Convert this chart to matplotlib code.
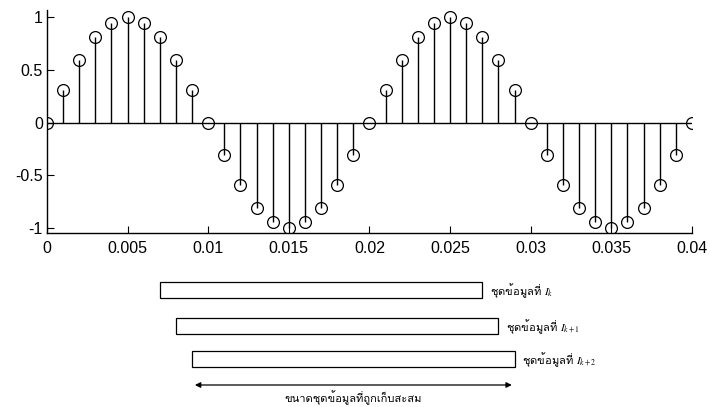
import numpy as np
import matplotlib
matplotlib.use('Agg')
from matplotlib import pyplot as plt
from matplotlib import font_manager
from matplotlib.ft2font import FT2Font

# sample times (s) and values
t = [0.000, 0.001, 0.002, 0.003, 0.004, 0.005, 0.006, 0.007, 0.008, 0.009,
     0.010, 0.011, 0.012, 0.013, 0.014, 0.015, 0.016, 0.017, 0.018, 0.019,
     0.020, 0.021, 0.022, 0.023, 0.024, 0.025, 0.026, 0.027, 0.028, 0.029,
     0.030, 0.031, 0.032, 0.033, 0.034, 0.035, 0.036, 0.037, 0.038, 0.039,
     0.040]
y = [0, 0.31, 0.59, 0.81, 0.95, 1.0, 0.95, 0.81, 0.59, 0.31,
     0, -0.31, -0.59, -0.81, -0.95, -1.0, -0.95, -0.81, -0.59, -0.31,
     0, 0.31, 0.59, 0.81, 0.95, 1.0, 0.95, 0.81, 0.59, 0.31,
     0, -0.31, -0.59, -0.81, -0.95, -1.0, -0.95, -0.81, -0.59, -0.31,
     0]

xticks = [0, 0.005, 0.01, 0.015, 0.02, 0.025, 0.03, 0.035, 0.04]
xticklabels = ['0', '0.005', '0.01', '0.015', '0.02', '0.025', '0.03', '0.035', '0.04']
yticks = [-1, -0.5, 0, 0.5, 1]
yticklabels = ['-1', '-0.5', '0', '0.5', '1']

# data windows (start, end in seconds) and their labels
win_start = [0.007, 0.008, 0.009]
win_end = [0.027, 0.028, 0.029]
win_labels = ['ชุดข้อมูลที่ $I_k$', 'ชุดข้อมูลที่ $I_{k+1}$', 'ชุดข้อมูลที่ $I_{k+2}$']
span_label = 'ขนาดชุดข้อมูลที่ถูกเก็บสะสม'


def thai_font():
    for f in font_manager.fontManager.ttflist:
        try:
            if 0x0E0A in FT2Font(f.fname).get_charmap():
                return f.name
        except Exception:
            pass
    return 'DejaVu Sans'


thai = thai_font()
plt.rcParams['font.family'] = ['Liberation Sans', 'DejaVu Sans']
plt.rcParams['mathtext.fontset'] = 'stix'

fig = plt.figure(figsize=(7.1, 4.07), dpi=100)
ax = fig.add_axes([0.0662, 0.4275, 0.9084, 0.548])

markerline, stemlines, baseline = ax.stem(t, y, linefmt='k-', markerfmt='ko', basefmt='k-')
markerline.set_markerfacecolor('none')
markerline.set_markeredgecolor('k')
markerline.set_markersize(8.5)
markerline.set_markeredgewidth(0.9)
stemlines.set_linewidth(1.0)
baseline.set_linewidth(1.0)
baseline.set_xdata([0, 0.04])

ax.set_xlim(0, 0.04)
ax.set_ylim(-1.05, 1.07)
ax.set_xticks(xticks)
ax.set_xticklabels(xticklabels)
ax.set_yticks(yticks)
ax.set_yticklabels(yticklabels)
ax.tick_params(direction='in', labelsize=11.5, length=5, width=0.8)
ax.tick_params(axis='x', pad=6)
ax.tick_params(axis='y', pad=3)
for s in ['top', 'right']:
    ax.spines[s].set_visible(False)
for s in ['left', 'bottom']:
    ax.spines[s].set_linewidth(1.0)

# lower panel with the data windows
ax2 = fig.add_axes([0.0662, 0.0, 0.9084, 0.3366])
ax2.set_xlim(0, 0.04)
ax2.set_ylim(137, 0)
ax2.axis('off')
rows = [12, 48, 81]
for i in range(len(win_start)):
    ax2.add_patch(plt.Rectangle((win_start[i], rows[i]), win_end[i] - win_start[i], 16,
                                fill=False, edgecolor='k', linewidth=0.9))
    ax2.text(win_end[i] + 0.00045, rows[i] + 9, win_labels[i], fontsize=8,
             family=[thai, 'DejaVu Sans'], va='center', ha='left')

ax2.annotate('', xy=(win_end[2], 115), xytext=(win_start[2], 115),
             arrowprops=dict(arrowstyle='<|-|>', color='k', lw=0.9, mutation_scale=8))
ax2.text((win_start[2] + win_end[2]) / 2, 128, span_label, fontsize=8,
         family=[thai, 'DejaVu Sans'], ha='center', va='center')

fig.savefig('out.png', dpi=100)
